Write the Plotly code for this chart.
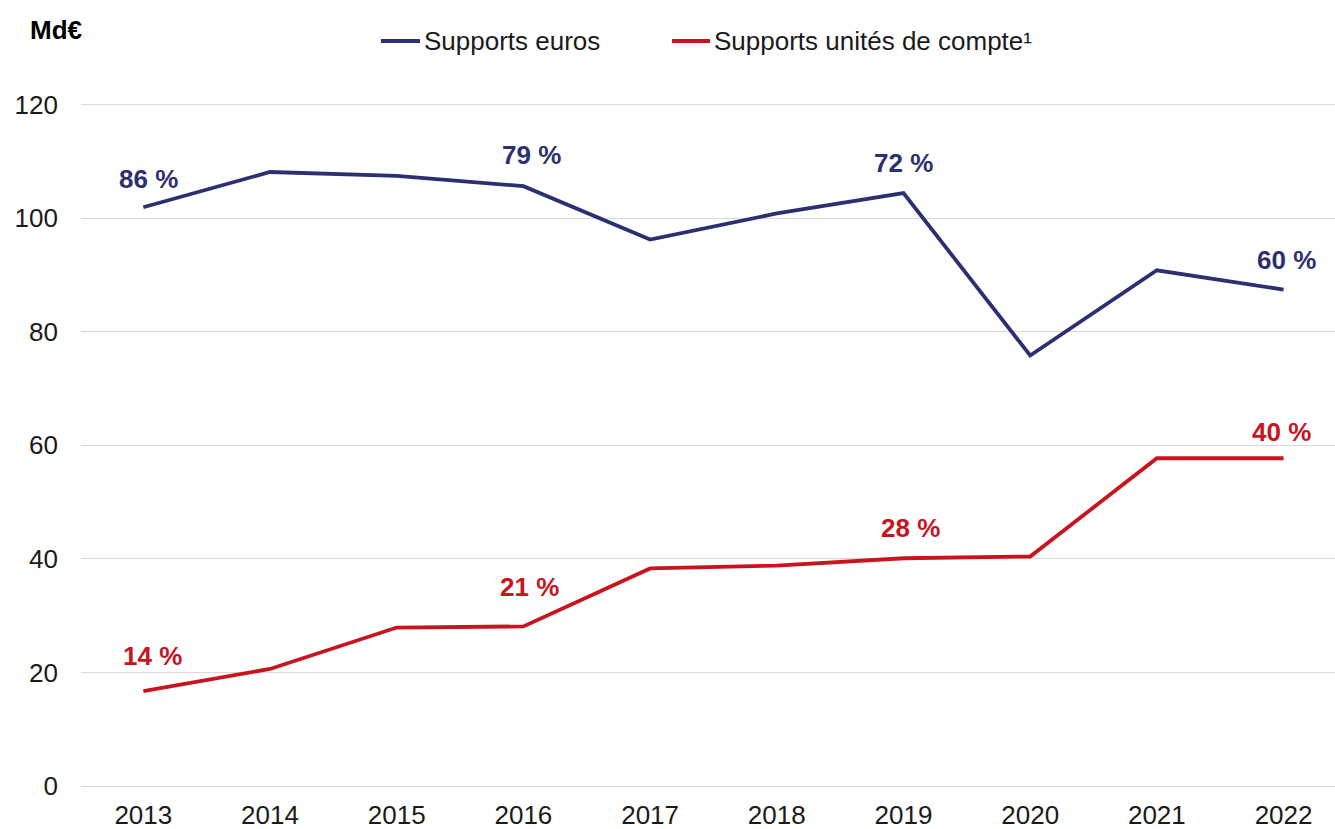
import plotly.graph_objects as go

years = [2013, 2014, 2015, 2016, 2017, 2018, 2019, 2020, 2021, 2022]
euros = [101.9, 108.1, 107.4, 105.6, 96.2, 100.8, 104.4, 75.8, 90.8, 87.4]
uc = [16.7, 20.6, 27.9, 28.1, 38.3, 38.8, 40.1, 40.4, 57.7, 57.7]

series_names = ["Supports euros", "Supports unités de compte¹"]

label_years = [2013, 2016, 2019, 2022]
euros_labels = ["86 %", "79 %", "72 %", "60 %"]
uc_labels = ["14 %", "21 %", "28 %", "40 %"]

y_ticks = [0, 20, 40, 60, 80, 100, 120]

BLUE = "#2B3070"
RED = "#C9141F"
FONT = "Liberation Sans, Arial, sans-serif"
TXT = "#1a1a1a"

fig = go.Figure()
fig.add_trace(go.Scatter(x=years, y=euros, mode="lines", name=series_names[0],
                         line=dict(color=BLUE, width=3.8), showlegend=False))
fig.add_trace(go.Scatter(x=years, y=uc, mode="lines", name=series_names[1],
                         line=dict(color=RED, width=3.8), showlegend=False))

# label offsets (style)
euros_shift = [(5, 28), (8, 31), (0, 30), (3, 30)]
uc_shift = [(9, 35), (6, 39), (7, 30), (-2, 26)]

for yr, lab, (dx, dy) in zip(label_years, euros_labels, euros_shift):
    fig.add_annotation(x=yr, y=euros[years.index(yr)], text="<b>%s</b>" % lab,
                       showarrow=False, xshift=dx, yshift=dy,
                       font=dict(family=FONT, size=26, color=BLUE))
for yr, lab, (dx, dy) in zip(label_years, uc_labels, uc_shift):
    fig.add_annotation(x=yr, y=uc[years.index(yr)], text="<b>%s</b>" % lab,
                       showarrow=False, xshift=dx, yshift=dy,
                       font=dict(family=FONT, size=26, color=RED))

# unit label
fig.add_annotation(xref="paper", yref="paper", x=-0.0423, y=1.0648,
                   xanchor="left", yanchor="middle", showarrow=False,
                   text="<b>Md€</b>", font=dict(family=FONT, size=26, color="#000000"))

# custom legend (line sample + text)
leg_y = 1.0493
leg_items = [(0.2392, 0.2703, 0.2719, BLUE), (0.4713, 0.5016, 0.5032, RED)]
for name, (x0, x1, xt, col) in zip(series_names, leg_items):
    fig.add_shape(type="line", xref="paper", yref="paper", x0=x0, x1=x1,
                  y0=leg_y, y1=leg_y, line=dict(color=col, width=3.8))
    fig.add_annotation(xref="paper", yref="paper", x=xt, y=leg_y,
                       xanchor="left", yanchor="middle", showarrow=False,
                       text=name, font=dict(family=FONT, size=26, color=TXT))

fig.update_layout(
    width=1335, height=829,
    margin=dict(l=81, r=0, t=76, b=43, autoexpand=False),
    paper_bgcolor="white", plot_bgcolor="white",
    font=dict(family=FONT, size=26, color=TXT),
    showlegend=False,
    xaxis=dict(range=[2012.508, 2022.406], tickmode="array", tickvals=years,
               ticktext=[str(y) for y in years], showgrid=False, zeroline=False,
               showline=True, linecolor="#d9d9d9", linewidth=1.3,
               ticks="", ticklabelstandoff=6,
               tickfont=dict(family=FONT, size=26, color=TXT)),
    yaxis=dict(range=[0, 125], tickmode="array", tickvals=y_ticks,
               showgrid=True, gridcolor="#d9d9d9", gridwidth=1.3,
               zeroline=False, showline=False, ticks="", ticklabelstandoff=22,
               tickfont=dict(family=FONT, size=26, color=TXT)),
)

fig.write_html("out.html", config={"displayModeBar": False},
               post_script="document.body.style.margin='0';document.body.style.overflow='hidden';")
